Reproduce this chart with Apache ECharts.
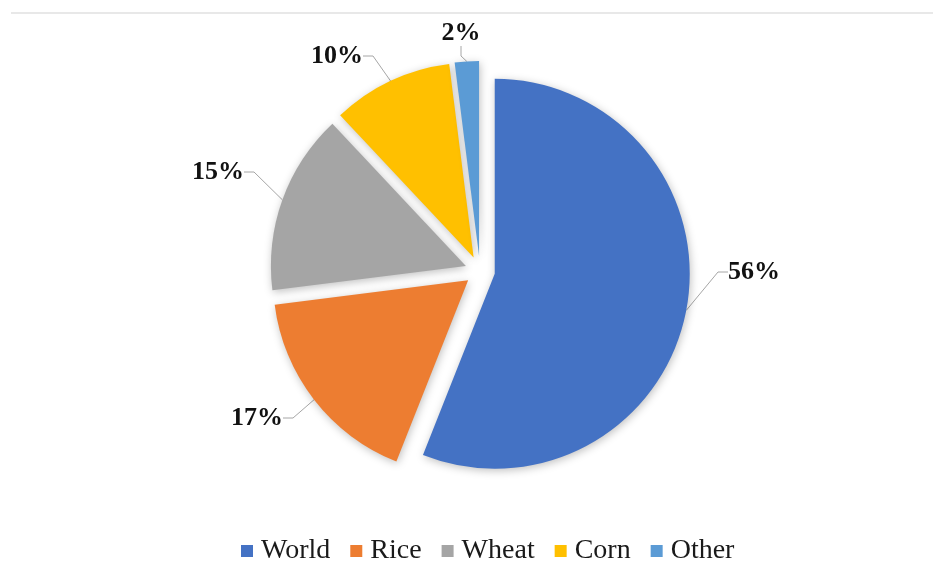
<!DOCTYPE html>
<html>
<head>
<meta charset="utf-8">
<script src="https://cdn.jsdelivr.net/npm/echarts@6/dist/echarts.min.js"></script>
<style>
html,body{margin:0;padding:0;background:#fff;}
#chart{width:933px;height:562px;}
</style>
</head>
<body>
<div id="chart"></div>
<script>
const categories = ['World', 'Rice', 'Wheat', 'Corn', 'Other'];
const values = [56, 17, 15, 10, 2];
const colors = ['#4472C4', '#ED7D31', '#A5A5A5', '#FFC000', '#5B9BD5'];
// label text placement (px)
const labelPos = [
  {x: 728, y: 272, align: 'left'},
  {x: 283, y: 418, align: 'right'},
  {x: 244, y: 172, align: 'right'},
  {x: 363, y: 56, align: 'right'},
  {x: 461, y: 33, align: 'center'}
];

const chart = echarts.init(document.getElementById('chart'), null, {renderer: 'canvas'});
const serif = '"Liberation Serif", "Times New Roman", serif';
chart.setOption({
  backgroundColor: '#ffffff',
  animation: false,
  graphic: [{
    type: 'line',
    shape: {x1: 11, y1: 13, x2: 933, y2: 13},
    style: {stroke: '#e8e8e8', lineWidth: 2}
  }],
  legend: {
    data: categories,
    top: 532,
    left: 236,
    icon: 'rect',
    itemWidth: 12,
    itemHeight: 12,
    itemGap: 20,
    textStyle: {fontFamily: serif, fontSize: 28, color: '#1a1a1a', padding: [0, 0, 0, 3]},
    selectedMode: false
  },
  series: [{
    type: 'pie',
    center: [480, 271],
    radius: 195,
    startAngle: 90,
    clockwise: true,
    selectedMode: 'multiple',
    selectedOffset: 15,
    emphasis: {disabled: true},
    itemStyle: {
      shadowBlur: 8,
      shadowColor: 'rgba(0,0,0,0.25)',
      shadowOffsetX: 1,
      shadowOffsetY: 2
    },
    label: {show: false},
    labelLine: {show: false},
    data: categories.map((c, i) => ({
      name: c,
      value: values[i],
      selected: true,
      itemStyle: {color: colors[i]}
    }))
  }, {
    type: 'pie',
    center: [480, 271],
    radius: 210,
    startAngle: 90,
    clockwise: true,
    silent: true,
    selectedMode: false,
    emphasis: {disabled: true},
    itemStyle: {color: 'rgba(0,0,0,0)'},
    label: {
      show: true,
      position: 'outside',
      formatter: '{c}%',
      fontFamily: serif,
      fontWeight: 'bold',
      fontSize: 26,
      color: '#111'
    },
    labelLine: {
      show: true,
      length: 12,
      length2: 10,
      lineStyle: {color: '#a6a6a6', width: 1, opacity: 1}
    },
    labelLayout: function (params) {
      const p = labelPos[params.dataIndex];
      return {x: p.x, y: p.y, align: p.align, verticalAlign: 'middle'};
    },
    data: categories.map((c, i) => ({name: c, value: values[i]}))
  }]
});
</script>
</body>
</html>
